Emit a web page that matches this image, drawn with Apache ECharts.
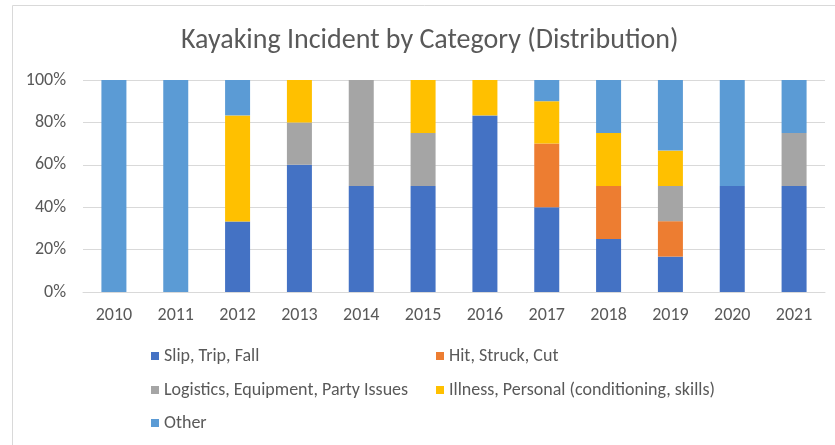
<!DOCTYPE html>
<html>
<head>
<meta charset="utf-8">
<script src="https://cdn.jsdelivr.net/npm/echarts@6/dist/echarts.min.js"></script>
<style>
html,body{margin:0;padding:0;background:#fff;}
#chart{width:835px;height:445px;}
</style>
</head>
<body>
<div id="chart"></div>
<script>
// years on the x axis
var years = ['2010','2011','2012','2013','2014','2015','2016','2017','2018','2019','2020','2021'];
// share of incidents per category, in percent
var slipTripFall = [0, 0, 33.3, 60, 50, 50, 83.3, 40, 25, 16.7, 50, 50];
var hitStruckCut = [0, 0, 0, 0, 0, 0, 0, 30, 25, 16.7, 0, 0];
var logistics    = [0, 0, 0, 20, 50, 25, 0, 0, 0, 16.6, 0, 25];
var illness      = [0, 0, 50, 20, 0, 25, 16.7, 20, 25, 16.7, 0, 0];
var other        = [100, 100, 16.7, 0, 0, 0, 0, 10, 25, 33.3, 50, 25];
var yTicks = [0, 20, 40, 60, 80, 100];

var names = ['Slip, Trip, Fall', 'Hit, Struck, Cut', 'Logistics, Equipment, Party Issues',
  'Illness, Personal (conditioning, skills)', 'Other'];
var colors = ['#4472c4', '#ed7d31', '#a5a5a5', '#ffc000', '#5b9bd5'];
var values = [slipTripFall, hitStruckCut, logistics, illness, other];

var font = 'Calibri, Carlito, Lato, sans-serif';
var textColor = '#595959';

var myChart = echarts.init(document.getElementById('chart'));

// legend: one component per item so the two-column layout can be placed by hand
var legendPos = [[151, 347], [436, 347], [151, 381], [436, 381], [151, 414]];
var legends = names.map(function(n, i){
  return {
    data: [n],
    left: legendPos[i][0],
    top: legendPos[i][1],
    padding: 0,
    icon: 'rect',
    itemWidth: 8,
    itemHeight: 8,
    textStyle: {color: textColor, fontSize: 18, fontFamily: font}
  };
});

var option = {
  animation: false,
  textStyle: {fontFamily: font},
  title: {
    text: 'Kayaking Incident by Category (Distribution)',
    left: 176,
    top: 22,
    textStyle: {color: textColor, fontSize: 28, fontWeight: 'normal', fontFamily: font}
  },
  legend: legends,
  grid: {left: 83, right: 10, top: 80, bottom: 153, containLabel: false},
  xAxis: {
    type: 'category',
    data: years,
    axisLine: {lineStyle: {color: '#d9d9d9', width: 1}},
    axisTick: {show: false},
    axisLabel: {color: textColor, fontSize: 18, margin: 14, fontFamily: font}
  },
  yAxis: {
    type: 'value',
    min: yTicks[0],
    max: yTicks[yTicks.length - 1],
    interval: 20,
    axisLine: {show: false},
    axisTick: {show: false},
    splitLine: {lineStyle: {color: '#d9d9d9', width: 1}},
    axisLabel: {color: textColor, fontSize: 18, margin: 17, fontFamily: font,
      formatter: function(v){ return v + '%'; }}
  },
  series: names.map(function(n, i){
    return {
      name: n,
      type: 'bar',
      stack: 'total',
      barWidth: 25,
      itemStyle: {color: colors[i]},
      data: values[i]
    };
  }),
  graphic: [{
    type: 'rect',
    shape: {x: 12.5, y: 5.5, width: 900, height: 600},
    style: {fill: 'none', stroke: '#d9d9d9', lineWidth: 1},
    silent: true
  }]
};
myChart.setOption(option);
</script>
</body>
</html>
